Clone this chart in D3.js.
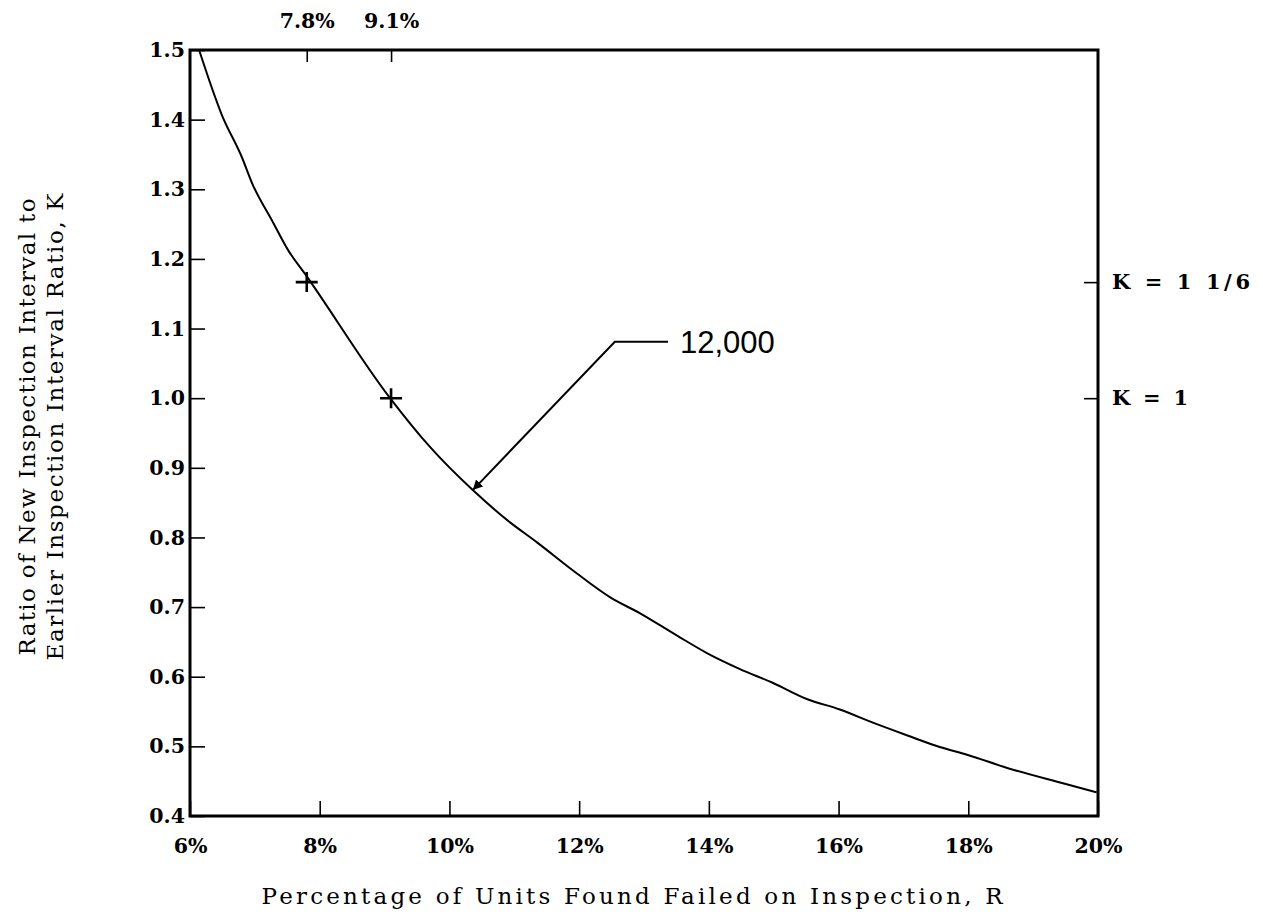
<!DOCTYPE html>
<html>
<head>
<meta charset="utf-8">
<script src="https://cdn.jsdelivr.net/npm/d3@7"></script>
<style>
  html, body { margin: 0; padding: 0; background: #fff; }
  svg { display: block; }
  text { fill: #000; }
</style>
</head>
<body>
<svg id="chart" width="1263" height="918"></svg>
<script>
// ---- data ----
const percentR = [6.14, 6.49, 6.80, 6.97, 7.26, 7.51, 7.80, 9.07, 9.70, 10.36, 10.93, 11.35, 11.90, 12.48, 12.94, 13.51, 13.97, 14.48, 14.99, 15.51, 16.02, 16.53, 17.05, 17.56, 17.98, 18.60, 19.46, 19.98];
const ratioK   = [1.500, 1.407, 1.346, 1.306, 1.256, 1.213, 1.175, 1.002, 0.930, 0.868, 0.822, 0.793, 0.753, 0.714, 0.691, 0.659, 0.634, 0.611, 0.591, 0.568, 0.553, 0.534, 0.516, 0.499, 0.488, 0.469, 0.447, 0.434];
const xTicks = [6, 8, 10, 12, 14, 16, 18, 20];
const yTicks = [0.4, 0.5, 0.6, 0.7, 0.8, 0.9, 1.0, 1.1, 1.2, 1.3, 1.4, 1.5];
const markR = [7.8, 9.1];
const markK = [7 / 6, 1.0];
const markKLabels = ["K = 1 1/6", "K = 1"];
const annotationLabel = "12,000";
const annotationTipR = 10.36, annotationTipK = 0.868;
const annotationElbowR = 12.55, annotationElbowK = 1.081;
const annotationEndR = 13.37;
const xTitle = "Percentage of Units Found Failed on Inspection, R";
const yTitleLines = ["Ratio of New Inspection Interval to", "Earlier Inspection Interval Ratio, K"];

// ---- layout ----
const svg = d3.select("#chart");
const x = d3.scaleLinear().domain([6, 20]).range([190, 1098]);
const y = d3.scaleLinear().domain([0.4, 1.5]).range([816, 50]);
const serif = "'DejaVu Serif', serif";

// frame
svg.append("rect")
  .attr("x", x(6)).attr("y", y(1.5))
  .attr("width", x(20) - x(6)).attr("height", y(0.4) - y(1.5))
  .attr("fill", "none").attr("stroke", "#000").attr("stroke-width", 3);

function styleAxis(g) {
  g.select(".domain").remove();
  g.selectAll(".tick line").attr("stroke", "#000").attr("stroke-width", 1.6);
  g.selectAll(".tick text")
    .attr("font-family", serif).attr("font-weight", "bold")
    .attr("font-size", 20.5).attr("fill", "#000");
}

// bottom axis
svg.append("g")
  .attr("transform", `translate(0,${y(0.4)})`)
  .call(d3.axisBottom(x).tickValues(xTicks).tickSize(-15).tickPadding(22)
        .tickFormat(d => d + "%"))
  .call(styleAxis);

// left axis
svg.append("g")
  .attr("transform", `translate(${x(6)},0)`)
  .call(d3.axisLeft(y).tickValues(yTicks).tickSize(-15).tickPadding(5)
        .tickFormat(d3.format(".1f")))
  .call(styleAxis);

// top axis (marked R values)
svg.append("g")
  .attr("transform", `translate(0,${y(1.5)})`)
  .call(d3.axisTop(x).tickValues(markR).tickSize(-12).tickPadding(22)
        .tickFormat(d => d.toFixed(1) + "%"))
  .call(styleAxis);

// right axis (marked K values)
const rightLabelLengths = [138, 76];
const rightAxis = svg.append("g")
  .attr("transform", `translate(${x(20)},0)`)
  .call(d3.axisRight(y).tickValues(markK).tickSize(-14).tickPadding(14)
        .tickFormat((d, i) => markKLabels[i]))
  .call(styleAxis);
rightAxis.selectAll(".tick text")
  .attr("font-size", 21)
  .attr("textLength", (d, i) => rightLabelLengths[i])
  .attr("lengthAdjust", "spacing");

// curve
const pts = percentR.map((r, i) => [r, ratioK[i]]);
svg.append("path")
  .datum(pts)
  .attr("fill", "none").attr("stroke", "#000").attr("stroke-width", 2)
  .attr("stroke-linejoin", "round")
  .attr("d", d3.line().x(d => x(d[0])).y(d => y(d[1])).curve(d3.curveMonotoneX));

// plus markers
svg.append("g").selectAll("path")
  .data(markR.map((r, i) => [r, markK[i]]))
  .join("path")
  .attr("transform", d => `translate(${x(d[0])},${y(d[1])})`)
  .attr("d", "M-11,0H11M0,-10V10")
  .attr("stroke", "#000").attr("stroke-width", 2.6).attr("fill", "none");

// annotation
const defs = svg.append("defs");
defs.append("marker")
  .attr("id", "arrow").attr("viewBox", "0 0 10 10")
  .attr("refX", 10).attr("refY", 5)
  .attr("markerWidth", 5).attr("markerHeight", 5)
  .attr("orient", "auto")
  .append("path").attr("d", "M0,0L10,5L0,10Z").attr("fill", "#000");

svg.append("path")
  .attr("d", `M${x(annotationEndR)},${y(annotationElbowK)}H${x(annotationElbowR)}L${x(annotationTipR)},${y(annotationTipK)}`)
  .attr("fill", "none").attr("stroke", "#000").attr("stroke-width", 2)
  .attr("marker-end", "url(#arrow)");

svg.append("text")
  .attr("x", x(annotationEndR) + 12).attr("y", y(annotationElbowK))
  .attr("dy", "0.35em")
  .attr("font-family", "'Liberation Sans', Arial, sans-serif")
  .attr("font-size", 31)
  .text(annotationLabel);

// x title
svg.append("text")
  .attr("x", 632).attr("y", 904)
  .attr("text-anchor", "middle")
  .attr("font-family", serif).attr("font-size", 23)
  .attr("textLength", 741).attr("lengthAdjust", "spacing")
  .text(xTitle);

// y title
const yT = svg.append("text")
  .attr("transform", "translate(0,427) rotate(-90)")
  .attr("text-anchor", "middle")
  .attr("font-family", serif).attr("font-size", 23);
yT.append("tspan").attr("x", 0).attr("y", 35)
  .attr("textLength", 457).attr("lengthAdjust", "spacing").text(yTitleLines[0]);
yT.append("tspan").attr("x", 0).attr("y", 63)
  .attr("textLength", 467).attr("lengthAdjust", "spacing").text(yTitleLines[1]);
</script>
</body>
</html>
